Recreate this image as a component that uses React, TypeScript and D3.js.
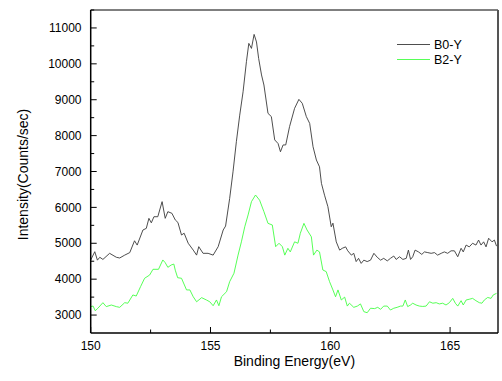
import * as d3 from 'd3'

const b0Energy = [150.00, 150.17, 150.28, 150.38, 150.51, 150.79, 151.07, 151.21, 151.42, 151.63, 151.83, 151.94, 152.18, 152.32, 152.43, 152.53, 152.64, 152.80, 152.98, 153.11, 153.22, 153.39, 153.53, 153.64, 153.79, 153.90, 154.07, 154.28, 154.42, 154.51, 154.69, 154.90, 155.11, 155.32, 155.53, 155.63, 155.80, 155.94, 156.08, 156.22, 156.36, 156.50, 156.60, 156.71, 156.82, 156.92, 157.01, 157.13, 157.23, 157.40, 157.54, 157.68, 157.82, 157.92, 158.03, 158.14, 158.30, 158.51, 158.69, 158.83, 159.00, 159.14, 159.28, 159.42, 159.55, 159.63, 159.76, 159.90, 160.04, 160.11, 160.25, 160.39, 160.50, 160.64, 160.73, 160.88, 160.98, 161.08, 161.18, 161.29, 161.40, 161.54, 161.68, 161.82, 161.96, 162.10, 162.23, 162.38, 162.51, 162.65, 162.75, 162.89, 163.03, 163.17, 163.26, 163.35, 163.44, 163.54, 163.68, 163.82, 163.93, 164.07, 164.21, 164.35, 164.48, 164.63, 164.76, 164.90, 165.04, 165.18, 165.32, 165.46, 165.55, 165.67, 165.80, 165.94, 166.08, 166.19, 166.29, 166.40, 166.50, 166.61, 166.75, 166.85, 166.94]
const b0Counts = [4533, 4765, 4530, 4610, 4550, 4720, 4610, 4590, 4670, 4740, 5070, 4950, 5370, 5415, 5695, 5570, 5740, 5740, 6160, 5695, 5880, 5835, 5650, 5580, 5230, 5280, 5000, 4810, 4670, 4905, 4720, 4720, 4670, 4905, 5370, 5480, 6250, 6990, 7830, 8570, 9220, 10060, 10570, 10430, 10820, 10610, 10150, 9690, 9410, 8620, 8530, 7880, 7780, 7550, 7740, 7740, 8250, 8760, 9010, 8900, 8530, 8340, 7690, 7320, 7130, 6670, 6340, 6020, 5460, 5560, 5040, 4810, 4860, 4900, 4790, 4670, 4720, 4490, 4580, 4440, 4530, 4490, 4530, 4720, 4610, 4530, 4580, 4510, 4580, 4645, 4550, 4625, 4550, 4580, 4810, 4550, 4625, 4810, 4760, 4690, 4760, 4740, 4720, 4740, 4670, 4720, 4760, 4720, 4790, 4790, 4625, 4860, 4760, 4950, 4900, 5000, 4950, 5090, 4950, 5040, 4900, 5140, 5040, 5090, 4920]

const b2Energy = [150.00, 150.10, 150.19, 150.30, 150.51, 150.65, 150.86, 151.07, 151.21, 151.42, 151.55, 151.76, 151.90, 152.08, 152.25, 152.46, 152.60, 152.83, 153.01, 153.11, 153.22, 153.36, 153.47, 153.53, 153.63, 153.79, 154.00, 154.14, 154.28, 154.42, 154.63, 154.83, 154.97, 155.11, 155.25, 155.35, 155.46, 155.67, 155.80, 155.98, 156.15, 156.29, 156.43, 156.57, 156.71, 156.88, 157.05, 157.23, 157.40, 157.58, 157.72, 157.86, 158.00, 158.10, 158.23, 158.33, 158.51, 158.65, 158.75, 158.90, 159.03, 159.21, 159.30, 159.44, 159.55, 159.69, 159.83, 159.97, 160.11, 160.22, 160.32, 160.46, 160.60, 160.71, 160.80, 160.98, 161.13, 161.26, 161.40, 161.54, 161.68, 161.85, 161.98, 162.10, 162.23, 162.38, 162.51, 162.65, 162.79, 162.93, 163.03, 163.13, 163.23, 163.35, 163.44, 163.58, 163.72, 163.86, 164.00, 164.14, 164.28, 164.42, 164.55, 164.69, 164.83, 164.97, 165.11, 165.22, 165.32, 165.46, 165.55, 165.67, 165.80, 165.94, 166.08, 166.22, 166.33, 166.43, 166.57, 166.71, 166.80, 166.94]
const b2Counts = [3235, 3250, 3120, 3190, 3345, 3235, 3280, 3235, 3215, 3345, 3330, 3560, 3530, 3790, 4025, 4115, 4275, 4275, 4535, 4460, 4330, 4395, 4420, 4250, 4040, 4025, 3700, 3700, 3510, 3370, 3485, 3420, 3370, 3260, 3420, 3260, 3510, 3650, 3930, 4165, 4670, 5040, 5460, 5790, 6160, 6345, 6200, 5880, 5555, 5510, 4905, 5000, 4905, 4670, 4860, 4760, 5040, 5000, 5280, 5555, 5370, 5180, 4670, 4810, 4760, 4255, 4210, 3930, 3700, 3510, 3700, 3420, 3500, 3250, 3330, 3215, 3250, 3310, 3095, 3065, 3190, 3180, 3215, 3160, 3250, 3250, 3140, 3190, 3215, 3250, 3250, 3420, 3235, 3280, 3330, 3280, 3250, 3240, 3250, 3370, 3330, 3345, 3310, 3330, 3280, 3345, 3465, 3330, 3250, 3400, 3280, 3420, 3440, 3465, 3400, 3345, 3330, 3420, 3490, 3465, 3560, 3605]

const xMajor = [150, 155, 160, 165]
const xMinor = [152.5, 157.5, 162.5]
const yMajor = [3000, 4000, 5000, 6000, 7000, 8000, 9000, 10000, 11000]
const yMinor = [3500, 4500, 5500, 6500, 7500, 8500, 9500, 10500, 11500]

const series = [
  { name: 'B0-Y', energy: b0Energy, counts: b0Counts, color: '#3a3a3a' },
  { name: 'B2-Y', energy: b2Energy, counts: b2Counts, color: '#44ff44' },
]

const W = 502
const H = 381
const left = 90.7
const right = 498
const top = 10
const bottom = 333
const font = 'Arial, "Liberation Sans", sans-serif'

export default function App() {
  const x = d3.scaleLinear().domain([150, 167]).range([left, right])
  const y = d3.scaleLinear().domain([2500, 11500]).range([bottom, top])

  const line = d3.line<[number, number]>()
    .x(d => x(d[0]))
    .y(d => y(d[1]))

  return (
    <svg width={W} height={H} style={{ position: 'absolute', left: 0, top: 0, background: '#fff' }}>
      <defs>
        <clipPath id="plot">
          <rect x={left} y={top} width={right - left} height={bottom - top} />
        </clipPath>
      </defs>

      {/* curves */}
      <g clipPath="url(#plot)" fill="none">
        {series.map(s => (
          <path
            key={s.name}
            d={line(s.energy.map((e, i) => [e, s.counts[i]] as [number, number])) || ''}
            stroke={s.color}
            strokeWidth={0.9}
          />
        ))}
      </g>

      {/* frame */}
      <line x1={left} y1={top} x2={right} y2={top} stroke="#000" strokeWidth={1} />
      <line x1={right} y1={top} x2={right} y2={bottom} stroke="#555" strokeWidth={2} />
      <line x1={left} y1={top} x2={left} y2={bottom} stroke="#000" strokeWidth={1.5} />
      <line x1={left} y1={bottom} x2={right} y2={bottom} stroke="#000" strokeWidth={1.5} />

      {/* x ticks (inward) */}
      {xMajor.map(t => (
        <g key={'xm' + t}>
          <line x1={x(t)} x2={x(t)} y1={bottom} y2={bottom - 6} stroke="#000" />
          <text x={x(t)} y={349.5} textAnchor="middle" fontSize={12} fontFamily={font}>{t}</text>
        </g>
      ))}
      {xMinor.map(t => (
        <line key={'xn' + t} x1={x(t)} x2={x(t)} y1={bottom} y2={bottom - 3.5} stroke="#000" />
      ))}

      {/* y ticks (inward) */}
      {yMajor.map(t => (
        <g key={'ym' + t}>
          <line x1={left} x2={left + 6} y1={y(t)} y2={y(t)} stroke="#000" />
          <text x={81.5} y={y(t)} dy="0.35em" textAnchor="end" fontSize={12} fontFamily={font}>{t}</text>
        </g>
      ))}
      {yMinor.map(t => (
        <line key={'yn' + t} x1={left} x2={left + 3.5} y1={y(t)} y2={y(t)} stroke="#000" />
      ))}

      {/* axis titles */}
      <text x={(left + right) / 2} y={366} textAnchor="middle" fontSize={14} fontFamily={font}>
        Binding Energy(eV)
      </text>
      <text
        transform={`translate(28,${(top + bottom) / 2 + 3}) rotate(-90)`}
        textAnchor="middle"
        fontSize={14}
        fontFamily={font}
      >
        Intensity(Counts/sec)
      </text>

      {/* legend */}
      {series.map((s, i) => (
        <g key={'lg' + s.name} transform={`translate(397,${44.5 + i * 15})`}>
          <line x1={0} x2={33} y1={0} y2={0} stroke={s.color} strokeWidth={0.9} />
          <text x={37} y={0} dy="0.36em" fontSize={12.5} fontFamily={font}>{s.name}</text>
        </g>
      ))}
    </svg>
  )
}
